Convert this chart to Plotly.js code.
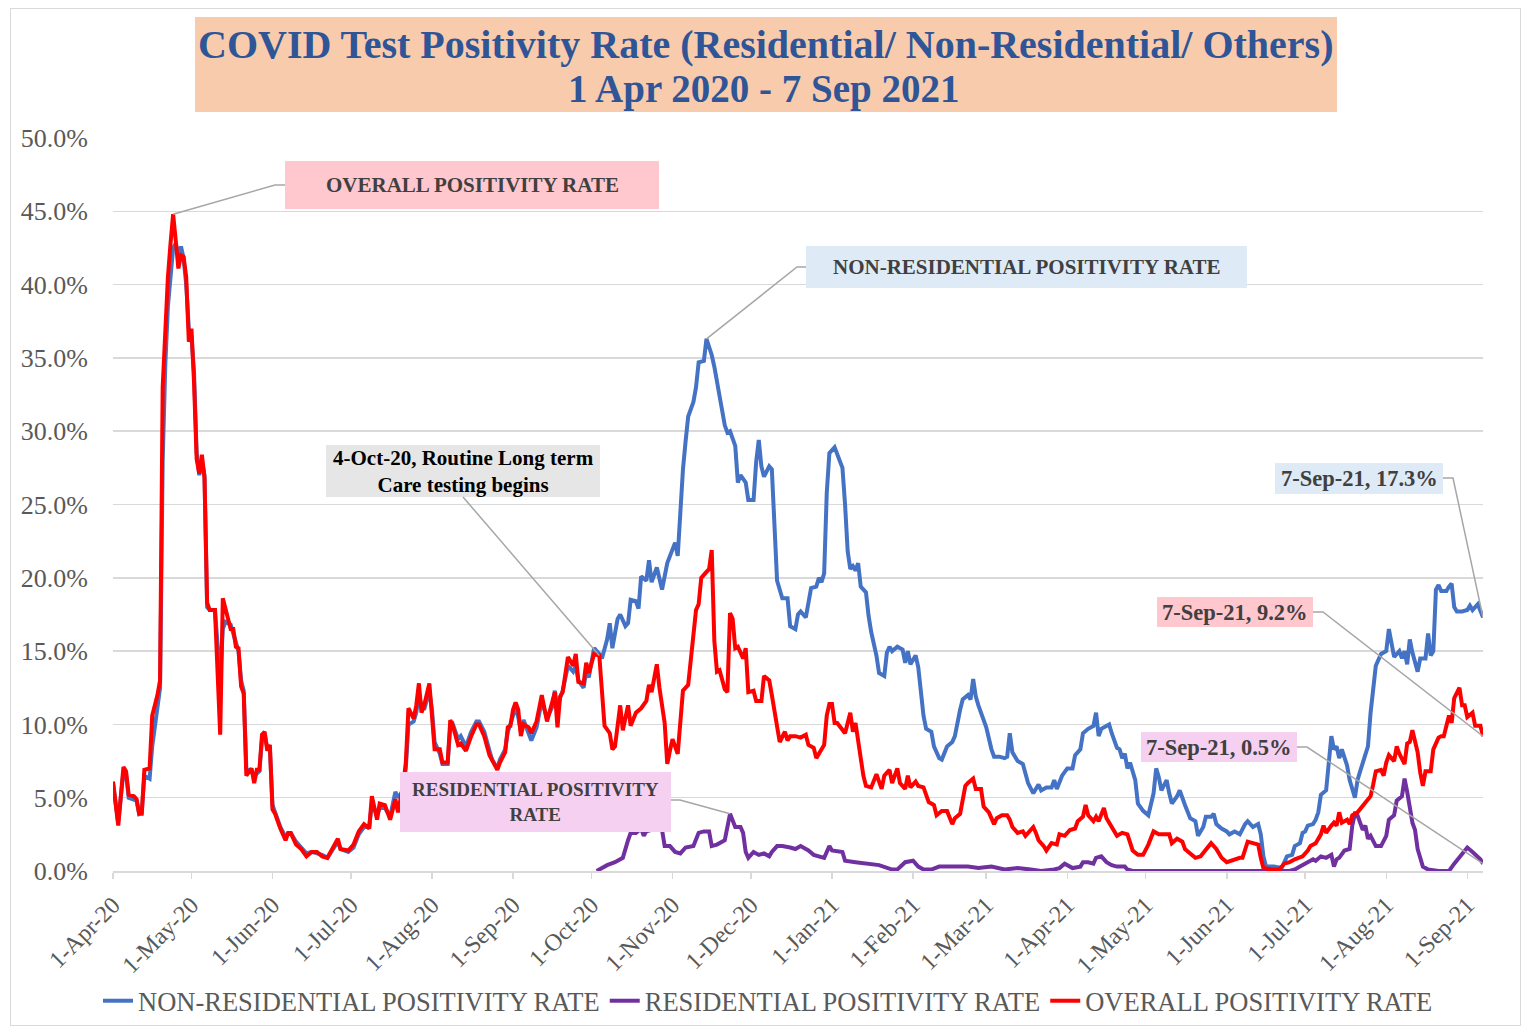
<!DOCTYPE html>
<html>
<head>
<meta charset="utf-8">
<script src="https://cdn.plot.ly/plotly-3.0.1.min.js"></script>
<style>
  html, body { margin: 0; padding: 0; background: #ffffff; }
  #frame { position: absolute; left: 10px; top: 8px; width: 1511px; height: 1018px; border: 1px solid #d9d9d9; box-sizing: border-box; }
  #chart { position: absolute; left: 0; top: 0; width: 1525px; height: 1029px; }
</style>
</head>
<body>
<div id="frame"></div>
<div id="chart"></div>
<script>
// ---- DATA (day = days since 1-Apr-2020, value = positivity rate in %) ----
const monthTickDays = [0, 30, 61, 91, 122, 153, 183, 214, 244, 275, 306, 334, 365, 395, 426, 456, 487, 518];
const monthTickLabels = ['1-Apr-20','1-May-20','1-Jun-20','1-Jul-20','1-Aug-20','1-Sep-20','1-Oct-20','1-Nov-20','1-Dec-20',
  '1-Jan-21','1-Feb-21','1-Mar-21','1-Apr-21','1-May-21','1-Jun-21','1-Jul-21','1-Aug-21','1-Sep-21'];
const lastDay = 524; // 7-Sep-21

const nonResidential = [
 [0,6.0],[2,3.3],[4,6.8],[5,6.6],[6,5.0],[8,4.9],[9,4.8],[10,3.9],[11,4.0],[12,6.5],[14,6.3],[15,8.5],[17,11.0],[18,12.5],
 [19,28.0],[20,34.5],[21,38.5],[22,40.8],[23,42.5],[24,42.8],[25,42.0],[26,42.6],[27,41.8],[28,40.0],[29,37.0],[30,36.5],
 [31,34.0],[32,28.5],[33,27.0],[34,28.0],[35,27.0],[36,18.0],[37,17.8],[39,17.8],[40,15.0],[41,13.1],[42,16.5],[43,17.0],
 [45,16.8],[46,16.2],[47,15.5],[48,15.0],[49,13.0],[50,12.3],[51,7.0],[53,6.8],[54,6.5],[55,6.7],[56,6.8],[57,9.0],[58,9.3],
 [59,8.4],[60,8.4],[61,4.5],[62,4.0],[64,3.0],[66,2.3],[67,2.6],[68,2.6],[70,2.0],[72,1.6],[74,1.2],[76,1.3],[78,1.2],
 [80,1.1],[82,0.9],[84,1.5],[86,2.0],[87,1.5],[90,1.3],[92,1.6],[94,2.5],[96,3.0],[98,3.0],[99,4.6],[101,3.8],[102,4.3],
 [104,4.3],[106,3.7],[108,5.4],[109,5.0],[111,5.5],[112,7.0],[113,10.0],[115,10.2],[116,10.8],[117,12.0],[118,11.3],[119,11.0],
 [121,12.3],[122,11.0],[123,8.8],[125,8.0],[126,7.3],[128,7.3],[129,9.8],[130,10.0],[132,9.0],[133,9.2],[135,8.5],[137,9.5],
 [139,10.2],[140,10.2],[142,9.5],[144,8.2],[145,7.6],[147,7.0],[148,7.6],[150,8.3],[151,9.5],[152,10.0],[153,10.7],[154,11.2],
 [155,10.5],[156,9.5],[157,10.3],[159,9.3],[160,8.9],[162,9.8],[163,10.6],[164,11.6],[166,10.4],[168,11.2],[169,12.3],[170,11.0],
 [171,11.8],[172,12.3],[174,14.0],[176,13.6],[177,14.0],[178,13.0],[180,12.5],[181,13.6],[182,13.2],[184,15.2],[186,14.8],
 [187,14.5],[189,15.8],[190,16.9],[191,15.2],[193,17.2],[194,17.5],[196,16.7],[197,16.9],[198,18.5],[200,18.4],[201,17.9],
 [202,20.1],[204,19.8],[205,21.2],[206,19.7],[208,20.7],[210,19.2],[212,21.0],[213,21.5],[215,22.4],[216,21.5],[217,24.5],
 [218,27.4],[219,29.3],[220,31.0],[222,32.0],[223,33.0],[224,34.7],[226,34.8],[227,36.3],[229,35.2],[230,34.4],[231,33.2],
 [232,32.4],[234,30.4],[235,29.9],[236,30.0],[238,29.0],[239,26.5],[240,27.0],[242,26.5],[243,25.3],[245,25.3],[246,27.9],
 [247,29.4],[248,27.6],[249,26.9],[251,27.6],[252,27.4],[253,23.0],[254,19.8],[256,18.6],[258,18.6],[259,16.7],[261,16.5],
 [262,17.5],[263,17.7],[265,17.3],[266,18.2],[267,19.3],[269,19.4],[270,20.0],[271,19.7],[272,20.3],[273,25.8],[274,28.5],
 [276,28.9],[277,28.4],[279,27.5],[280,25.0],[281,21.8],[282,20.6],[283,20.8],[284,20.5],[285,21.0],[286,19.4],[288,19.0],
 [289,17.4],[290,16.3],[292,14.7],[293,13.5],[295,13.3],[296,14.9],[297,15.3],[298,15.0],[300,15.3],[302,15.1],[303,14.2],
 [304,15.0],[305,14.1],[307,14.7],[308,13.9],[309,12.4],[310,10.6],[311,9.7],[313,9.5],[314,8.5],[316,7.7],[317,7.6],
 [319,8.5],[321,8.8],[322,9.2],[324,11.0],[325,11.7],[327,12.0],[328,11.7],[329,13.1],[330,11.9],[331,11.3],[332,10.8],
 [334,9.8],[336,8.3],[337,7.8],[339,7.8],[341,7.7],[342,7.8],[343,9.4],[344,8.1],[346,7.5],[347,7.4],[348,7.3],[350,6.0],
 [351,5.7],[352,5.3],[354,5.9],[355,5.5],[357,5.7],[359,5.7],[360,6.2],[361,5.6],[363,6.5],[365,7.0],[367,7.0],[368,7.9],
 [370,8.3],[371,9.4],[373,9.7],[375,9.9],[376,10.8],[377,9.2],[378,9.7],[381,10.0],[382,9.4],[384,8.4],[385,8.3],[386,7.7],
 [387,8.0],[388,7.0],[389,7.4],[391,6.2],[392,4.6],[394,4.1],[396,3.8],[398,5.3],[399,7.0],[400,6.4],[401,5.5],[403,6.2],
 [404,5.3],[405,4.6],[407,5.1],[408,5.5],[410,4.5],[411,4.1],[412,3.6],[414,3.4],[415,2.4],[417,3.0],[418,3.7],[420,3.7],
 [421,3.9],[422,3.2],[424,2.9],[426,2.7],[427,2.5],[429,2.7],[431,2.5],[433,3.2],[434,3.4],[436,3.0],[438,3.2],[439,2.5],
 [440,1.0],[441,0.3],[444,0.3],[447,0.2],[449,1.0],[451,1.1],[452,1.7],[454,1.9],[455,2.6],[456,2.7],[457,3.1],[459,3.2],
 [460,3.5],[461,4.0],[462,5.2],[464,5.5],[465,7.7],[466,9.2],[467,8.3],[468,8.5],[469,7.7],[470,8.3],[472,7.2],[473,6.2],
 [475,5.0],[476,6.2],[477,6.8],[479,8.1],[480,8.5],[481,10.8],[482,12.2],[483,14.0],[485,14.8],[486,14.9],[487,15.0],
 [488,16.5],[489,15.4],[490,14.6],[492,15.0],[493,14.5],[494,15.0],[495,14.1],[496,15.8],[497,14.9],[499,13.6],[500,14.5],
 [502,14.5],[503,16.2],[504,14.7],[505,15.0],[506,19.2],[507,19.5],[508,19.1],[510,19.1],[511,19.4],[512,19.6],[513,18.0],
 [514,17.7],[516,17.7],[518,17.8],[519,18.1],[520,17.8],[522,18.2],[523,17.8],[524,17.3]
];

const residential = [
 [185,0.0],[189,0.4],[192,0.6],[195,0.9],[197,2.1],[198,2.6],[200,2.6],[202,2.9],[203,2.4],[204,2.7],[206,2.8],[208,3.8],
 [210,2.8],[211,1.7],[213,1.7],[215,1.3],[217,1.2],[219,1.6],[222,1.7],[224,2.6],[226,2.7],[228,2.7],[229,1.7],[231,1.8],
 [234,2.1],[235,3.0],[236,3.9],[238,3.0],[240,3.0],[241,2.6],[242,1.3],[243,0.9],[245,1.3],[247,1.1],[249,1.2],[251,1.0],
 [252,1.3],[254,1.7],[256,1.7],[259,1.6],[261,1.5],[263,1.7],[266,1.4],[268,1.1],[272,0.9],[274,1.7],[275,1.4],[279,1.3],
 [280,0.7],[284,0.6],[288,0.5],[293,0.4],[298,0.1],[300,0.1],[303,0.6],[306,0.7],[308,0.3],[310,0.1],[313,0.1],[316,0.3],
 [319,0.3],[323,0.3],[327,0.3],[331,0.2],[336,0.3],[341,0.1],[346,0.2],[351,0.1],[355,0.0],[360,0.1],[362,0.2],[364,0.5],
 [365,0.4],[367,0.2],[370,0.3],[371,0.6],[373,0.6],[375,0.5],[376,0.9],[378,1.0],[380,0.6],[382,0.4],[384,0.3],[387,0.3],
 [388,0.1],[390,0.0],[450,0.0],[452,0.1],[454,0.3],[456,0.5],[459,0.8],[460,0.7],[462,1.0],[464,0.9],[466,1.1],[467,0.3],
 [468,0.8],[469,0.9],[471,1.4],[473,1.5],[474,3.1],[475,3.9],[476,3.8],[478,2.8],[479,3.1],[480,2.2],[481,2.4],[483,1.7],
 [485,1.7],[487,2.4],[488,3.5],[490,3.8],[491,4.8],[493,5.1],[494,6.3],[495,5.4],[497,3.3],[498,2.8],[499,1.5],[501,0.3],
 [503,0.1],[507,0.0],[511,0.0],[513,0.5],[515,0.9],[517,1.4],[518,1.6],[520,1.3],[522,1.0],[523,0.8],[524,0.5]
];

const overall = [
 [0,6.1],[2,3.1],[4,7.1],[5,6.8],[6,5.2],[8,5.1],[9,4.9],[10,3.9],[11,3.9],[12,6.9],[14,7.0],[15,10.6],[17,12.0],[18,13.0],
 [19,33.0],[20,37.5],[21,40.5],[22,42.8],[23,44.8],[24,43.0],[25,41.1],[26,42.0],[27,41.9],[28,40.5],[29,36.1],[30,37.0],
 [31,33.3],[32,28.1],[33,27.1],[34,28.4],[35,26.8],[36,18.3],[37,17.8],[39,17.8],[40,13.7],[41,9.3],[42,18.6],[43,17.9],
 [45,16.5],[46,16.5],[47,15.3],[48,15.2],[49,12.6],[50,12.1],[51,6.5],[53,7.0],[54,6.0],[55,6.9],[56,6.9],[57,9.3],[58,9.5],
 [59,8.2],[60,8.6],[61,4.2],[62,3.9],[64,2.9],[66,2.1],[67,2.6],[68,2.6],[70,1.8],[72,1.5],[74,1.0],[76,1.3],[78,1.3],
 [80,1.0],[82,0.9],[84,1.6],[86,2.2],[87,1.5],[90,1.4],[92,1.8],[94,2.7],[96,3.2],[98,2.9],[99,5.1],[101,3.5],[102,4.6],
 [104,4.5],[106,3.5],[108,4.9],[109,4.0],[111,5.9],[112,7.4],[113,11.1],[115,10.4],[116,11.3],[117,12.8],[118,10.8],[119,11.3],
 [121,12.8],[122,10.6],[123,8.3],[125,8.3],[126,7.4],[128,7.4],[129,10.3],[130,9.9],[132,8.6],[133,8.7],[135,8.2],[137,9.2],
 [139,10.0],[140,10.0],[142,9.2],[144,7.9],[145,7.6],[147,6.9],[148,7.4],[150,8.1],[151,9.8],[152,9.9],[153,11.0],[154,11.5],
 [155,11.0],[156,9.2],[157,10.0],[159,9.8],[160,9.4],[162,10.2],[163,11.1],[164,12.0],[166,10.2],[168,11.5],[169,12.2],[170,9.8],
 [171,11.9],[172,12.2],[174,14.6],[176,14.0],[177,14.8],[178,12.9],[180,12.8],[181,14.2],[182,13.5],[184,14.8],[186,14.7],
 [187,12.3],[188,9.9],[190,9.4],[191,8.3],[192,8.5],[194,11.3],[195,9.6],[197,11.3],[198,9.9],[200,10.8],[202,11.1],[204,11.6],
 [205,12.7],[206,12.2],[208,14.1],[209,12.5],[211,10.1],[212,7.3],[213,8.2],[214,9.0],[216,8.0],[217,10.3],[218,12.3],[220,12.7],
 [222,15.9],[223,17.8],[224,18.2],[225,20.0],[227,20.4],[228,20.6],[229,21.9],[230,15.7],[231,13.6],[232,13.7],[234,12.4],
 [235,12.2],[236,17.6],[237,17.2],[238,15.2],[239,15.3],[241,14.5],[242,15.2],[243,12.2],[245,12.3],[246,11.6],[248,11.6],
 [249,13.3],[251,13.0],[252,12.0],[254,9.7],[255,8.8],[257,9.5],[258,8.9],[259,9.2],[261,9.2],[263,9.1],[265,9.3],[266,8.6],
 [268,8.4],[269,7.7],[271,8.4],[272,8.6],[273,10.6],[274,11.4],[275,11.4],[276,10.1],[277,10.1],[279,9.7],[280,9.4],[282,10.8],
 [283,9.5],[284,10.1],[286,7.6],[287,6.5],[288,5.8],[290,5.7],[292,6.6],[294,5.6],[295,6.5],[297,6.9],[298,6.0],[299,6.5],
 [300,7.0],[301,6.0],[303,5.6],[304,6.5],[305,5.7],[307,6.1],[308,5.8],[310,5.7],[312,4.7],[314,4.5],[315,3.8],[317,4.1],
 [319,4.1],[321,3.2],[322,3.6],[324,3.9],[326,5.8],[327,6.0],[329,6.3],[330,5.6],[332,5.6],[333,4.4],[335,4.0],[337,3.2],
 [338,3.6],[340,3.8],[342,3.8],[343,3.5],[344,3.0],[346,2.6],[348,2.7],[349,2.4],[350,2.6],[352,3.0],[353,2.6],[354,2.1],
 [356,1.7],[357,1.4],[359,1.9],[361,1.8],[362,2.5],[364,2.4],[366,2.8],[368,2.9],[369,3.4],[371,3.7],[372,4.5],[373,3.8],
 [375,3.4],[376,3.7],[377,3.4],[379,4.3],[380,3.6],[382,3.0],[383,2.6],[384,2.4],[386,2.6],[388,2.5],[390,1.4],[392,1.1],
 [394,1.1],[396,1.8],[398,2.7],[400,2.5],[402,2.5],[404,2.5],[405,1.9],[407,2.2],[409,2.0],[410,1.5],[412,1.2],[414,0.9],
 [416,1.0],[418,1.4],[420,1.9],[422,1.5],[424,0.9],[426,0.6],[429,0.8],[431,0.9],[432,0.9],[434,2.0],[436,1.9],[438,1.8],
 [439,0.9],[440,0.2],[443,0.1],[446,0.1],[448,0.5],[450,0.6],[452,0.8],[455,1.0],[457,1.4],[458,1.7],[460,1.9],[462,2.5],
 [463,3.1],[464,2.6],[466,3.1],[467,3.3],[468,3.1],[469,4.0],[470,3.3],[472,3.5],[473,3.2],[474,3.8],[476,4.0],[478,4.4],
 [480,4.8],[481,5.1],[482,5.9],[483,6.8],[485,6.9],[486,6.5],[487,7.4],[488,7.9],[490,7.5],[491,8.5],[492,8.0],[494,7.3],
 [495,8.7],[496,8.8],[497,9.6],[499,8.1],[500,6.7],[501,5.8],[502,6.8],[504,6.8],[505,8.3],[507,9.1],[508,9.2],[509,9.2],
 [511,10.6],[512,10.1],[513,11.8],[515,12.5],[516,11.3],[517,11.3],[518,10.5],[520,10.8],[521,9.9],[523,9.9],[524,9.2]
];

const seriesNames = ['NON-RESIDENTIAL POSITIVITY RATE', 'RESIDENTIAL POSITIVITY RATE', 'OVERALL POSITIVITY RATE'];
const seriesColors = ['#4472C4', '#7030A0', '#FF0000'];
const titleLines = ['COVID Test Positivity Rate (Residential/ Non-Residential/ Others)', '1 Apr 2020 - 7 Sep 2021'];

// ---- LAYOUT GEOMETRY ----
const W = 1525, H = 1029;
const M = {l: 113, r: W - 1483, t: 138, b: H - 871, autoexpand: false};
const PW = W - M.l - M.r, PH = H - M.t - M.b;
const YMAX = 50;
// pixel -> data / paper helpers (for callout boxes / elbows only)
const pxX = px => (px - M.l) / PW * lastDay;
const pxY = py => (H - M.b - py) / PH * YMAX;
const ppX = px => (px - M.l) / PW;
const ppY = py => (H - M.b - py) / PH;
const valAt = (arr, d) => { const p = arr.find(q => q[0] === d); return p ? p[1] : null; };

const FONT = 'Liberation Serif, Times New Roman, serif';

const traces = [nonResidential, residential, overall].map((arr, i) => ({
  type: 'scatter', mode: 'lines', name: seriesNames[i],
  x: arr.map(p => p[0]), y: arr.map(p => p[1]),
  line: {color: seriesColors[i], width: 4},
  hoverinfo: 'skip'
}));

// callouts: box in pixels, text, fill, target point
const callouts = [
  {box: [285, 161, 659, 209], text: 'OVERALL POSITIVITY RATE', fill: '#FFC7CE', color: '#404040', size: 21,
   elbow: [275, 185], from: [285, 185], target: [23, valAt(overall, 23)]},
  {box: [806, 246, 1247, 288], text: 'NON-RESIDENTIAL POSITIVITY RATE', fill: '#DEEBF7', color: '#404040', size: 21,
   elbow: [797, 267], from: [806, 267], target: [227, valAt(nonResidential, 227)]},
  {box: [326, 445, 600, 497], text: '4-Oct-20, Routine Long term<br>Care testing begins', fill: '#E6E6E6', color: '#000000', size: 21,
   elbow: null, from: [463, 497], target: [186, valAt(overall, 186)]},
  {box: [400, 772, 671, 832], text: 'RESIDENTIAL POSITIVITY<br>RATE', fill: '#F6D0F0', color: '#404040', size: 19,
   elbow: [680, 800], from: [671, 800], target: [236, valAt(residential, 236)]},
  {box: [1275, 463, 1443, 494], text: '7-Sep-21, 17.3%', fill: '#DEEBF7', color: '#404040', size: 22.5,
   elbow: [1453, 478], from: [1443, 478], target: [lastDay, valAt(nonResidential, lastDay)]},
  {box: [1157, 597, 1313, 627], text: '7-Sep-21, 9.2%', fill: '#FFC7CE', color: '#404040', size: 22.5,
   elbow: [1323, 612], from: [1313, 612], target: [lastDay, valAt(overall, lastDay)]},
  {box: [1141, 732, 1297, 762], text: '7-Sep-21, 0.5%', fill: '#F6D0F0', color: '#404040', size: 22.5,
   elbow: [1307, 747], from: [1297, 747], target: [lastDay, valAt(residential, lastDay)]}
];

const shapes = [
  // title box
  {type: 'rect', xref: 'paper', yref: 'paper', x0: ppX(195), x1: ppX(1337), y0: ppY(112), y1: ppY(17),
   fillcolor: '#F8CBAD', line: {width: 0}, layer: 'below'}
];
const annotations = [
  {xref: 'paper', yref: 'paper', x: ppX(766), y: ppY(45), xanchor: 'center', yanchor: 'middle', showarrow: false,
   text: '<b>' + titleLines[0] + '</b>', font: {family: FONT, size: 40, color: '#2F5597'}},
  {xref: 'paper', yref: 'paper', x: ppX(764), y: ppY(89), xanchor: 'center', yanchor: 'middle', showarrow: false,
   text: '<b>' + titleLines[1] + '</b>', font: {family: FONT, size: 39, color: '#2F5597'}}
];

callouts.forEach(c => {
  const [x0, y0, x1, y1] = c.box;
  shapes.push({type: 'rect', xref: 'paper', yref: 'paper', x0: ppX(x0), x1: ppX(x1), y0: ppY(y1), y1: ppY(y0),
    fillcolor: c.fill, line: {width: 0}, layer: 'above'});
  let path = `M ${pxX(c.from[0])},${pxY(c.from[1])}`;
  if (c.elbow) path += ` L ${pxX(c.elbow[0])},${pxY(c.elbow[1])}`;
  path += ` L ${c.target[0]},${c.target[1]}`;
  shapes.push({type: 'path', xref: 'x', yref: 'y', path: path, line: {color: '#A6A6A6', width: 1.5}, layer: 'above'});
  annotations.push({xref: 'paper', yref: 'paper', x: ppX((x0 + x1) / 2), y: ppY((y0 + y1) / 2),
    xanchor: 'center', yanchor: 'middle', showarrow: false, text: '<b>' + c.text + '</b>', align: 'center',
    font: {family: FONT, size: c.size, color: c.color}});
});

const layout = {
  width: W, height: H,
  margin: M,
  paper_bgcolor: 'rgba(0,0,0,0)', plot_bgcolor: 'rgba(0,0,0,0)',
  font: {family: FONT, color: '#595959'},
  showlegend: true,
  legend: {orientation: 'h', x: ppX(768), xanchor: 'center', y: ppY(1001), yanchor: 'middle',
    font: {family: FONT, size: 26.5, color: '#595959'}, itemwidth: 30, tracegroupgap: 0},
  xaxis: {
    range: [0, lastDay], tickmode: 'array', tickvals: monthTickDays, ticktext: monthTickLabels,
    tickangle: -45, tickfont: {family: FONT, size: 24, color: '#595959'},
    ticks: 'outside', ticklen: 6, tickcolor: '#d9d9d9', tickwidth: 1.5, automargin: false,
    showgrid: false, zeroline: false, showline: true, linecolor: '#d9d9d9', linewidth: 1.5,
    ticklabelstandoff: 3
  },
  yaxis: {
    range: [0, YMAX], dtick: 5, tick0: 0, tickformat: '.1f', ticksuffix: '%', automargin: false,
    tickfont: {family: FONT, size: 26, color: '#595959'},
    showgrid: true, gridcolor: '#d9d9d9', gridwidth: 1.5, zeroline: false, showline: false,
    ticklabelstandoff: 24
  },
  shapes: shapes,
  annotations: annotations
};

Plotly.newPlot('chart', traces, layout, {displayModeBar: false, staticPlot: true});
</script>
</body>
</html>
